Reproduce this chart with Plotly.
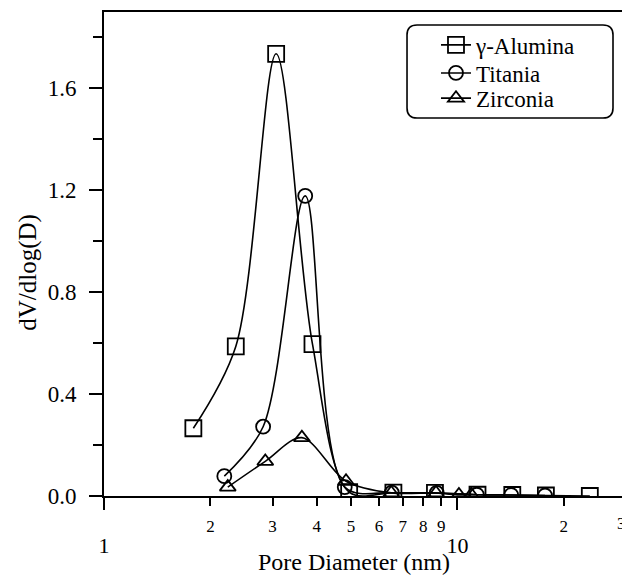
import plotly.graph_objects as go
import numpy as np

# pore size distribution
alumina_x = [1.79, 2.36, 3.07, 3.89, 4.94, 6.59, 8.64, 11.4, 14.3, 17.8, 23.7]
alumina_y = [0.266, 0.587, 1.736, 0.596, 0.015, 0.013, 0.012, 0.005, 0.004, 0.002, 0.0]

titania_x = [2.19, 2.82, 3.71, 4.80, 6.52, 8.74, 11.35, 14.2, 17.7]
titania_y = [0.078, 0.272, 1.178, 0.035, 0.013, 0.012, 0.005, 0.004, 0.002]

zirconia_x = [2.24, 2.86, 3.63, 4.84, 6.50, 8.70, 10.1, 10.95]
zirconia_y = [0.035, 0.136, 0.229, 0.058, 0.012, 0.012, 0.004, 0.004]

names = ['γ-Alumina', 'Titania', 'Zirconia']
symbols = ['square-open', 'circle-open', 'triangle-up-open']
sizes = [16, 14, 14]

minor_x_ticks = [2, 3, 4, 5, 6, 7, 8, 9, 20, 30]
minor_x_text = ['2', '3', '4', '5', '6', '7', '8', '9', '2', '']
major_x_ticks = [1, 10]
major_x_text = ['1', '10']
edge_text = '3'   # label of the 30 tick at the right edge

FONT = 'Liberation Serif'

fig = go.Figure()
legend_ids = ['legend', 'legend2', 'legend3']
for xs, ys, nm, sym, sz, lg in zip([alumina_x, titania_x, zirconia_x],
                                   [alumina_y, titania_y, zirconia_y],
                                   names, symbols, sizes, legend_ids):
    fig.add_trace(go.Scatter(x=xs, y=ys, name=nm, mode='lines+markers', legend=lg,
                             line=dict(color='black', width=1.6, shape='spline', smoothing=0.9),
                             marker=dict(symbol=sym, size=sz, color='black',
                                         line=dict(color='black', width=1.8))))
# empty trace so the overlay axis with the decade labels gets drawn
fig.add_trace(go.Scatter(x=[], y=[], xaxis='x2', showlegend=False, hoverinfo='skip'))

xr = [0, np.log10(30)]
leg_common = dict(x=0.636, xanchor='left', yanchor='middle', bgcolor='rgba(0,0,0,0)',
                  borderwidth=0, font=dict(family=FONT, size=23))
# the page body adds an 8px offset, so the figure is 8px smaller than the window
fig.update_layout(
    width=622, height=569,
    margin=dict(l=96, r=4, t=4, b=81),
    paper_bgcolor='white', plot_bgcolor='white',
    font=dict(family=FONT, color='black', size=22),
    showlegend=True,
    legend=dict(y=0.932, **leg_common),
    legend2=dict(y=0.874, **leg_common),
    legend3=dict(y=0.822, **leg_common),
    xaxis=dict(type='log', range=xr, tickmode='array', tickvals=minor_x_ticks, ticktext=minor_x_text,
               ticks='outside', ticklen=8, tickwidth=1.6, tickcolor='black',
               tickfont=dict(size=17), ticklabelstandoff=6, automargin=False,
               showline=True, linewidth=1.6, linecolor='black', mirror=True,
               showgrid=False, zeroline=False),
    xaxis2=dict(type='log', range=xr, overlaying='x', anchor='y', side='bottom',
                tickmode='array', tickvals=major_x_ticks, ticktext=major_x_text,
                ticks='outside', ticklen=13, tickwidth=1.6, tickcolor='black',
                tickfont=dict(size=22), ticklabelstandoff=17, automargin=False,
                showline=False, showgrid=False, zeroline=False),
    yaxis=dict(range=[0, 1.9], tickmode='array', tickvals=[0, 0.4, 0.8, 1.2, 1.6],
               tickformat='.1f', ticks='outside', ticklen=13, tickwidth=1.6, tickcolor='black',
               tickfont=dict(size=23), ticklabelstandoff=8, automargin=False,
               minor=dict(tickvals=[0.2, 0.6, 1.0, 1.4, 1.8], ticks='outside', ticklen=9,
                          tickwidth=1.6, tickcolor='black'),
               showline=True, linewidth=1.6, linecolor='black', mirror=True,
               showgrid=False, zeroline=False),
)

# rounded legend frame
x0, x1 = 0.5805, 0.9751
yt, yb = 0.9731, 0.7810
rx, ry = 0.0192, 0.0207
path = (f'M{x0+rx},{yt} L{x1-rx},{yt} Q{x1},{yt} {x1},{yt-ry} L{x1},{yb+ry} '
        f'Q{x1},{yb} {x1-rx},{yb} L{x0+rx},{yb} Q{x0},{yb} {x0},{yb+ry} '
        f'L{x0},{yt-ry} Q{x0},{yt} {x0+rx},{yt} Z')
fig.add_shape(type='path', path=path, xref='paper', yref='paper',
              line=dict(color='black', width=1.6))

fig.add_annotation(text=edge_text, xref='paper', yref='paper', x=1.004, y=-0.056,
                   xanchor='right', yanchor='middle', showarrow=False, font=dict(size=17))
fig.add_annotation(text='Pore Diameter (nm)', xref='paper', yref='paper',
                   x=0.479, y=-0.137, xanchor='center', yanchor='middle',
                   showarrow=False, font=dict(size=24))
fig.add_annotation(text='dV/dlog(D)', xref='paper', yref='paper',
                   x=-0.145, y=0.462, xanchor='center', yanchor='middle', textangle=-90,
                   showarrow=False, font=dict(size=25))

fig.write_html('out.html')
